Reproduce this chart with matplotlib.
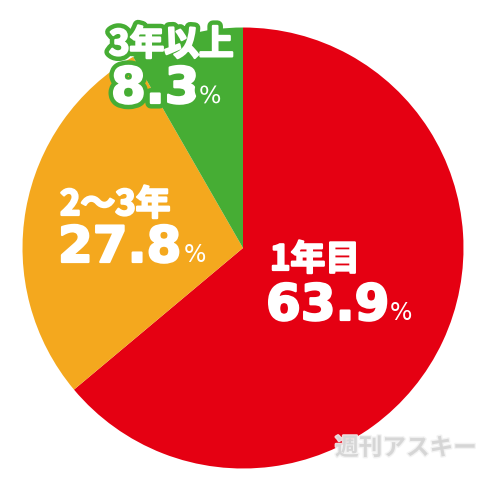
import matplotlib.pyplot as plt
import matplotlib.patheffects as pe

# data
labels = ['1年目', '2～3年', '3年以上']
values = [63.9, 27.8, 8.3]
colors = ['#E50012', '#F4A81E', '#46AD34']

# label layout (pixel coords, y from top): name, number, percent sign
name_pos = [(270, 270), (60, 215), (109, 55)]
num_pos = [(266, 320), (58, 262), (111, 103)]
pct_pos = [(390, 320), (184, 262), (199, 103)]

fig = plt.figure(figsize=(4.8, 4.8), dpi=100)
ax = fig.add_axes([0, 0, 1, 1])

ax.pie(values, colors=colors, startangle=90, counterclock=False,
       center=(243, 480 - 248), radius=220.5,
       wedgeprops=dict(linewidth=0))

# pie resets the limits, so set them afterwards
ax.set_xlim(0, 480)
ax.set_ylim(0, 480)
ax.set_aspect('equal')
ax.axis('off')

for i in range(len(values)):
    fx = []
    if i == 2:
        fx = [pe.withStroke(linewidth=8, foreground=colors[2])]
    bold = fx + [pe.withStroke(linewidth=1.6, foreground='white')]
    nx, ny = name_pos[i]
    ax.text(nx, 480 - ny, labels[i], color='white', fontsize=25,
            family=['Noto Sans CJK JP', 'DejaVu Sans'], fontweight='bold',
            va='baseline', ha='left', path_effects=bold)
    x, y = num_pos[i]
    ax.text(x, 480 - y, f'{values[i]:.1f}', color='white', fontsize=36,
            family='DejaVu Sans', fontweight='bold',
            va='baseline', ha='left', path_effects=bold)
    px, py = pct_pos[i]
    ax.text(px, 480 - py, '%', color='white', fontsize=17,
            family='DejaVu Sans', va='baseline', ha='left', path_effects=fx)

# watermark
ax.text(406, 480 - 448, '週刊アスキー', color='#d4d4d4', fontsize=17,
        family=['Noto Sans CJK JP'], fontweight='bold', style='italic',
        ha='center', va='center', alpha=0.9,
        path_effects=[pe.withStroke(linewidth=2, foreground='#f2f2f2')])

fig.savefig('out.png', dpi=100)
